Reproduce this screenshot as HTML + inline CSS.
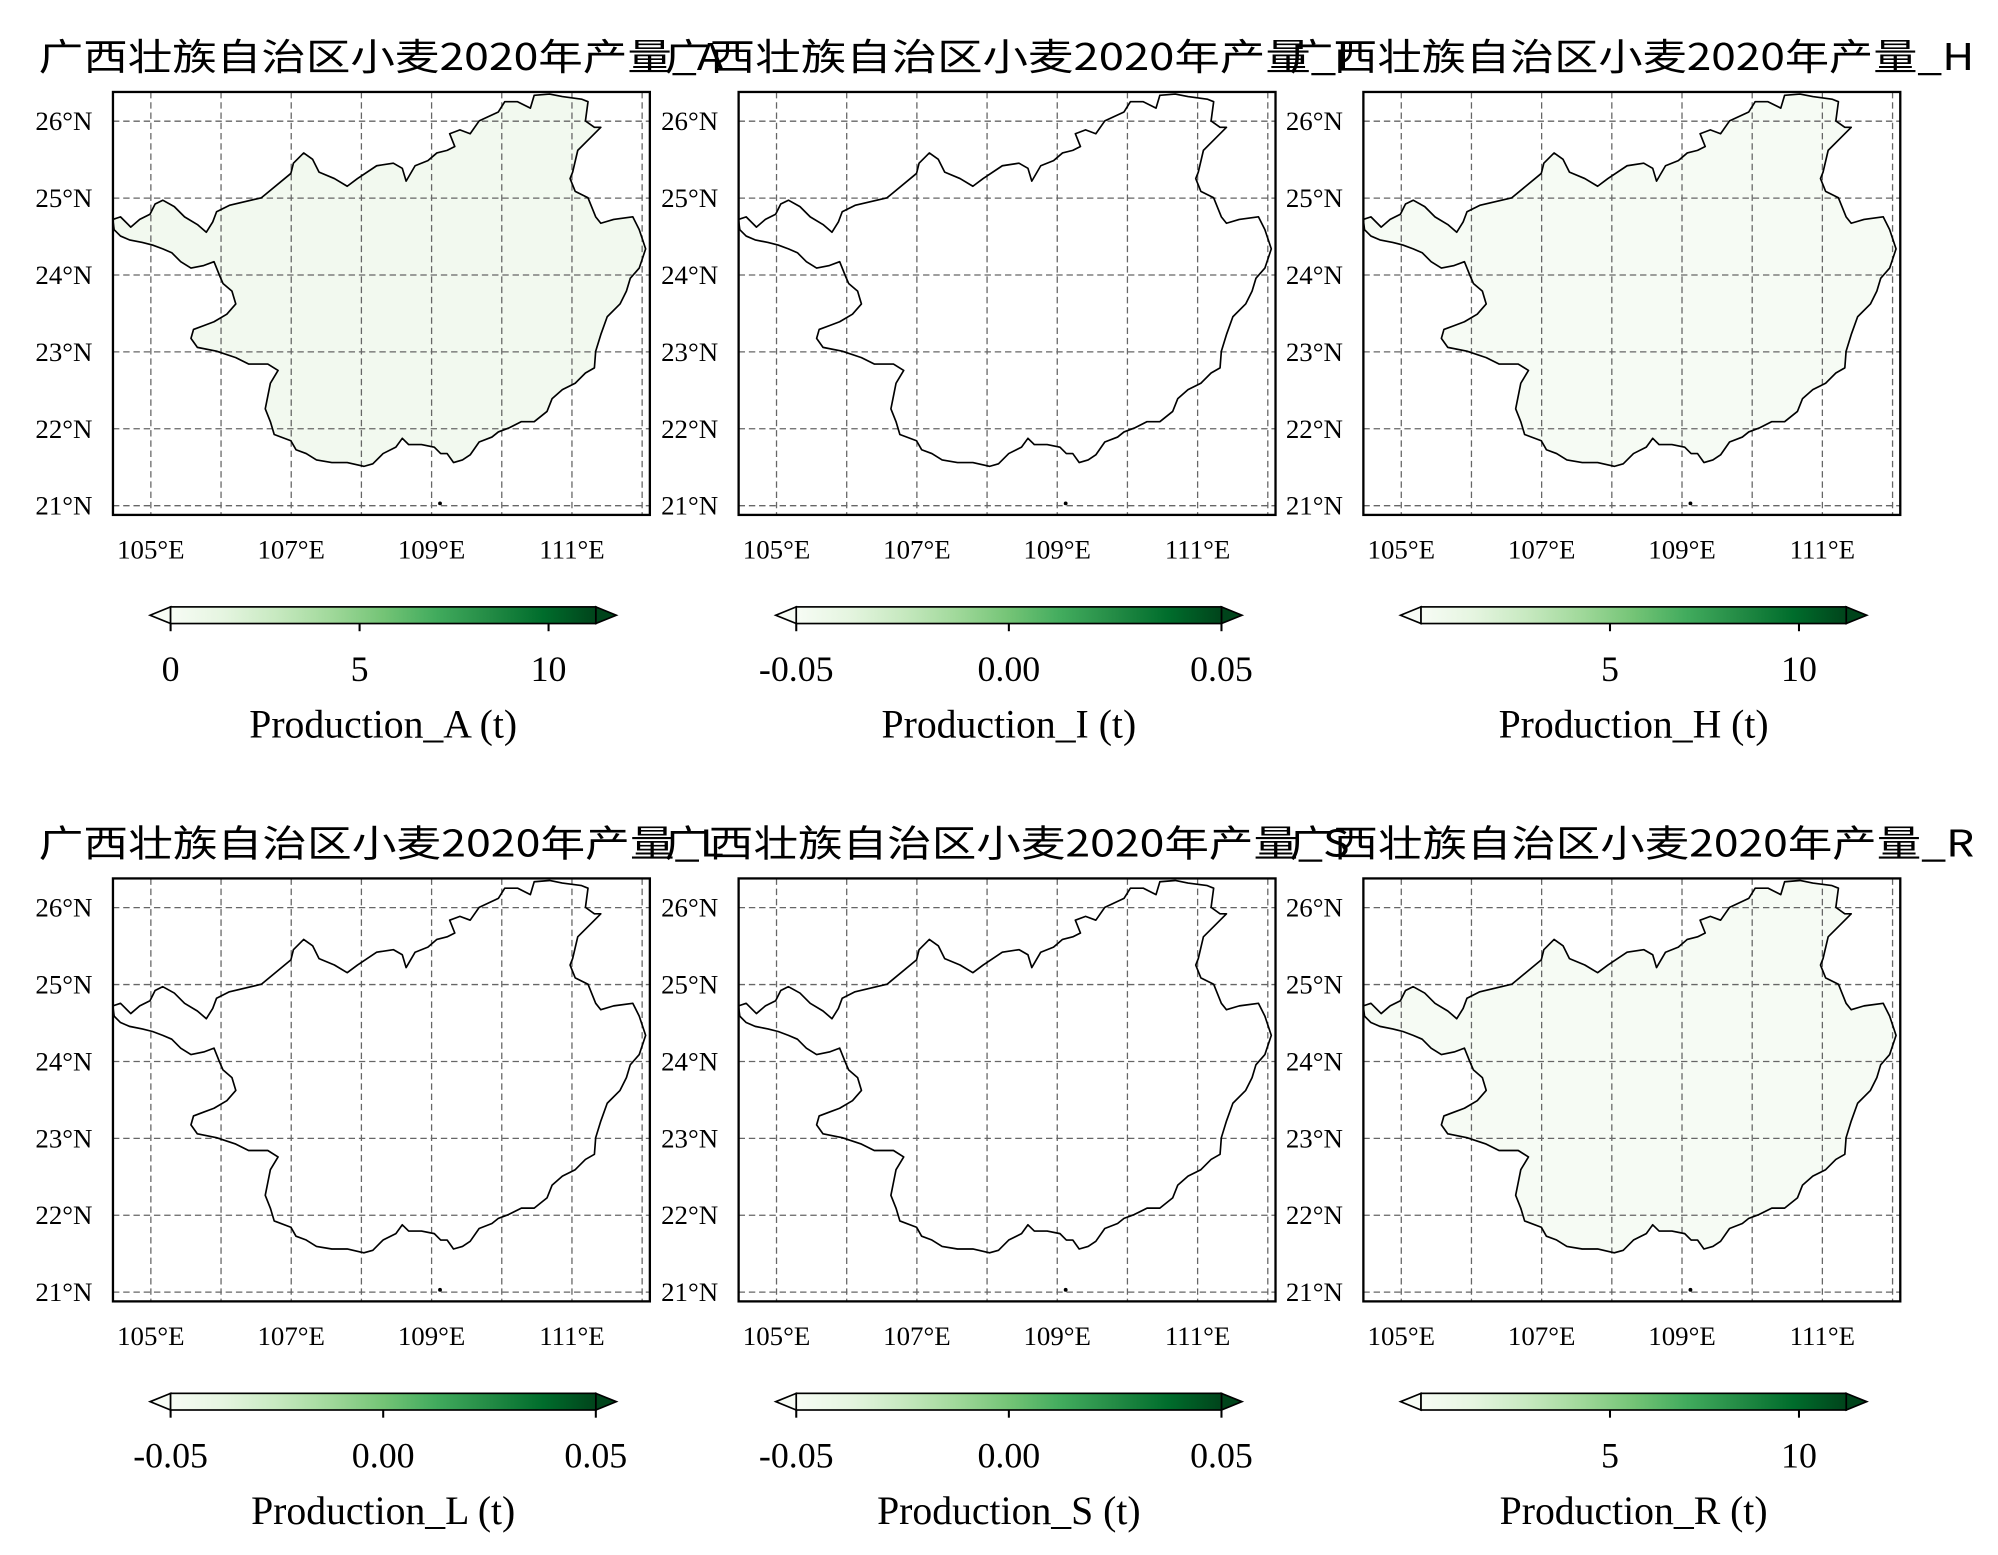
<!DOCTYPE html>
<html><head><meta charset="utf-8"><style>
html,body{margin:0;padding:0;background:#fff;}
svg{display:block;}
</style></head><body>
<svg id="fig" xmlns="http://www.w3.org/2000/svg" width="1998" height="1555" viewBox="0 0 1560 1214" preserveAspectRatio="none">
<defs>
<linearGradient id="greens" x1="0" x2="1" y1="0" y2="0">
<stop offset="0" stop-color="#f7fcf5"/><stop offset="0.125" stop-color="#e5f5e0"/><stop offset="0.25" stop-color="#c7e9c0"/><stop offset="0.375" stop-color="#a1d99b"/><stop offset="0.5" stop-color="#74c476"/><stop offset="0.625" stop-color="#41ab5d"/><stop offset="0.75" stop-color="#238b45"/><stop offset="0.875" stop-color="#006d2c"/><stop offset="1" stop-color="#00441b"/>
</linearGradient>
</defs>
</svg>
<script>
const panelSuffixes = ["A","I","H","L","S","R"];
const panelFills = ["#f2f9ef","#ffffff","#f6fbf4","#ffffff","#ffffff","#f6fbf4"];
const cbarMin = [0,-0.05,0,-0.05,-0.05,0];
const cbarMax = [11.25,0.05,11.25,0.05,0.05,11.25];
const cbarTicks = [[0,5,10],[-0.05,0,0.05],[5,10],[-0.05,0,0.05],[-0.05,0,0.05],[5,10]];
const cbarTickLabels = [["0","5","10"],["-0.05","0.00","0.05"],["5","10"],["-0.05","0.00","0.05"],["-0.05","0.00","0.05"],["5","10"]];
const lonTicks = [105,107,109,111];
const latTicks = [21,22,23,24,25,26];
const lonGrid = [105,106,107,108,109,110,111,112];
const lonMin = 104.46, lonMax = 112.11, latMin = 20.88, latMax = 26.38;
const outlinePx = [[89,172],[95,170],[103,178],[110,172],[118,168],[122,160],[128,157],[137,162],[145,170],[155,176],[162,182],[167,174],[170,166],[180,161],[205,155],[228,136],[230,128],[238,120],[245,125],[250,135],[262,140],[272,146],[280,140],[295,130],[308,128],[315,132],[318,142],[325,130],[335,126],[342,120],[350,118],[356,115],[352,105],[360,102],[368,105],[375,95],[390,88],[395,80],[405,80],[415,85],[418,75],[430,74],[440,76],[455,78],[460,80],[458,95],[465,100],[470,100],[462,108],[452,118],[448,135],[446,140],[450,150],[460,155],[466,170],[470,175],[480,172],[495,170],[500,180],[505,195],[500,210],[493,218],[490,228],[485,238],[475,248],[470,262],[466,275],[465,288],[458,292],[450,300],[440,305],[432,312],[428,322],[418,330],[408,330],[398,335],[390,338],[385,342],[375,346],[368,356],[362,360],[355,362],[350,355],[345,355],[340,350],[330,348],[320,348],[315,343],[310,350],[300,355],[292,363],[285,365],[272,362],[260,362],[248,360],[240,355],[232,352],[228,345],[215,340],[212,330],[208,320],[210,310],[212,300],[218,290],[210,285],[200,285],[195,285],[185,280],[170,275],[155,272],[150,265],[152,258],[160,255],[168,252],[178,246],[185,238],[182,228],[175,222],[172,215],[168,205],[160,208],[150,210],[142,205],[135,198],[128,195],[120,192],[112,190],[102,188],[95,185],[90,180]];
const outline = outlinePx.map(p => [105 + (p[0]-118.7)/54.8, 26 - (p[1]-95.2)/60.1]);
const island = [109.12, 21.03];

const NS = "http://www.w3.org/2000/svg";
const svg = document.getElementById("fig");
function mk(tag, attrs, parent){ const e=document.createElementNS(NS,tag); for(const k in attrs) e.setAttribute(k,attrs[k]); (parent||svg).appendChild(e); return e; }

const AX_W = 419.2, AX_H = 330.2;
const panelX = [88.2, 576.7, 1064.5];
const panelY = [71.8, 685.8];

panelSuffixes.forEach((suf, i) => {
  const col = i % 3, row = Math.floor(i / 3);
  const x0 = panelX[col], y0 = panelY[row];
  const xs = lon => x0 + (lon - lonMin) / (lonMax - lonMin) * AX_W;
  const ys = lat => y0 + (latMax - lat) / (latMax - latMin) * AX_H;
  const g = mk("g", {});
  
  

  const t = mk("text", {x: x0 - 58, y: y0 - 17, "font-size": 29, "font-family": "'Noto Sans CJK SC','WenQuanYi Zen Hei',sans-serif", textLength: 535, lengthAdjust: "spacingAndGlyphs"}, g);
  t.textContent = "广西壮族自治区小麦2020年产量_" + suf;
  
  

  const poly = mk("polygon", {points: outline.map(p => xs(p[0]).toFixed(1)+","+ys(p[1]).toFixed(1)).join(" "), fill: panelFills[i], stroke: "none"}, g);
  
  

  lonGrid.forEach(lon => {
    const l = mk("line", {x1: xs(lon), x2: xs(lon), y1: y0, y2: y0 + AX_H, stroke: "#666", "stroke-width": 1, "stroke-dasharray": "5,3"}, g);
    
    
  });
  latTicks.forEach(lat => {
    const l = mk("line", {x1: x0, x2: x0 + AX_W, y1: ys(lat), y2: ys(lat), stroke: "#666", "stroke-width": 1, "stroke-dasharray": "5,3"}, g);
    
    
    const tx = mk("text", {x: x0 - 16, y: ys(lat) + 7, "font-size": 21, "text-anchor": "end", "font-family": "'Liberation Serif',serif"}, g);
    tx.textContent = lat + "°N";
    
    
  });
  lonTicks.forEach(lon => {
    const tx = mk("text", {x: xs(lon), y: y0 + AX_H + 34, "font-size": 21, "text-anchor": "middle", "font-family": "'Liberation Serif',serif"}, g);
    tx.textContent = lon + "°E";
    
    
  });

  const ol = mk("polygon", {points: outline.map(p => xs(p[0]).toFixed(1)+","+ys(p[1]).toFixed(1)).join(" "), fill: "none", stroke: "#000", "stroke-width": 1.3, "stroke-linejoin": "round"}, g);
  
  
  const isl = mk("circle", {cx: xs(island[0]), cy: ys(island[1]), r: 1.5, fill: "#000"}, g);
  
  

  const fr = mk("rect", {x: x0, y: y0, width: AX_W, height: AX_H, fill: "none", stroke: "#000", "stroke-width": 1.8}, g);
  
  

  const bx0 = x0 + 45, bx1 = x0 + 377, by0 = y0 + 402, by1 = y0 + 415;
  const cs = v => bx0 + (v - cbarMin[i]) / (cbarMax[i] - cbarMin[i]) * (bx1 - bx0);
  const cb = mk("g", {}, g);
  
  
  const lt = mk("polygon", {points: `${bx0},${by0} ${bx0-16},${(by0+by1)/2} ${bx0},${by1}`, fill: "#f7fcf5", stroke: "#000", "stroke-width": 1.3}, cb);
  
  
  const rt = mk("polygon", {points: `${bx1},${by0} ${bx1+16},${(by0+by1)/2} ${bx1},${by1}`, fill: "#00441b", stroke: "#000", "stroke-width": 1.3}, cb);
  
  
  const br = mk("rect", {x: bx0, y: by0, width: bx1 - bx0, height: by1 - by0, fill: "url(#greens)", stroke: "#000", "stroke-width": 1.3}, cb);
  
  
  cbarTicks[i].forEach((v, k) => {
    const tk = mk("line", {x1: cs(v), x2: cs(v), y1: by1, y2: by1 + 6, stroke: "#000", "stroke-width": 1.6}, cb);
    
    
    const tl = mk("text", {x: cs(v), y: by1 + 45, "font-size": 28, "text-anchor": "middle", "font-family": "'Liberation Serif',serif"}, cb);
    tl.textContent = cbarTickLabels[i][k];
    
    
  });
  const lab = mk("text", {x: (bx0 + bx1) / 2, y: by1 + 89, "font-size": 31, "text-anchor": "middle", "font-family": "'Liberation Serif',serif"}, cb);
  lab.textContent = "Production_" + suf + " (t)";
  
  
});
</script>
</body></html>
